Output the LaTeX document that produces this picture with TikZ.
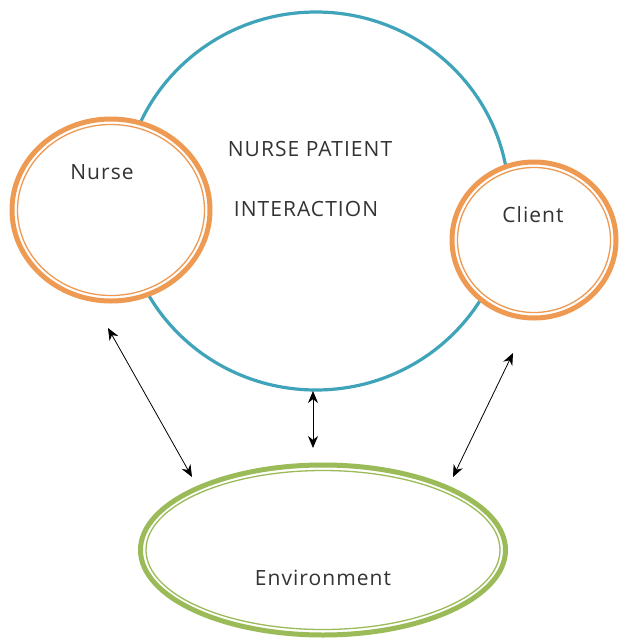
\documentclass[tikz,border=0pt]{standalone}
\usepackage{fontspec}
\setmainfont{Open Sans}[LetterSpace=5]
\usetikzlibrary{arrows.meta,shapes.geometric}
\definecolor{ringblue}{HTML}{3FA3BA}
\definecolor{ringorange}{HTML}{EE9A52}
\definecolor{ringgreen}{HTML}{9BBB59}
\tikzset{
  every node/.style={font=\fontsize{21}{25}\selectfont, text=black!80},
  bigring/.style={ellipse, draw=ringblue, line width=3.2pt, inner sep=0pt},
  outerring/.style={ellipse, fill=white, line width=5pt, inner sep=0pt},
  innerring/.style={ellipse, line width=1.3pt, inner sep=0pt},
  biarrow/.style={{Stealth[length=12pt,width=10pt]}-{Stealth[length=12pt,width=10pt]}, line width=0.8pt, black},
}
\begin{document}
\begin{tikzpicture}[x=1pt,y=-1pt]
\useasboundingbox (0,0) rectangle (622,641);
% central interaction circle
\node[bigring, minimum width=386pt, minimum height=378pt] (inter) at (316,201) {};
% nurse and client circles (double orange rings)
\node[outerring, draw=ringorange, minimum width=198pt, minimum height=182pt] (nurse) at (111,210) {};
\node[innerring, draw=ringorange, minimum width=187pt, minimum height=171pt] (nurseIn) at (111,210) {};
\node[outerring, draw=ringorange, minimum width=164pt, minimum height=156pt] (client) at (534,240) {};
\node[innerring, draw=ringorange, minimum width=153pt, minimum height=145pt] (clientIn) at (534,240) {};
% environment (double green ring)
\node[outerring, draw=ringgreen, minimum width=365pt, minimum height=170pt] (env) at (323,550) {};
\node[innerring, draw=ringgreen, minimum width=354pt, minimum height=159pt] (envIn) at (323,550) {};
% labels
\node (tNurse) at (102,172) {Nurse};
\node (tClient) at (533,215) {Client};
\node (tNP) at (310,149) {NURSE PATIENT};
\node (tInt) at (306,209) {INTERACTION};
\node (tEnv) at (323,578) {Environment};
% connector ends
\coordinate (nA) at (108,328);
\coordinate (nB) at (192,477);
\coordinate (iA) at (313,391);
\coordinate (iB) at (313,448);
\coordinate (cA) at (513,353);
\coordinate (cB) at (453,477);
\draw[biarrow] (nA) -- (nB);
\draw[biarrow] (iA) -- (iB);
\draw[biarrow] (cA) -- (cB);
\end{tikzpicture}
\end{document}
